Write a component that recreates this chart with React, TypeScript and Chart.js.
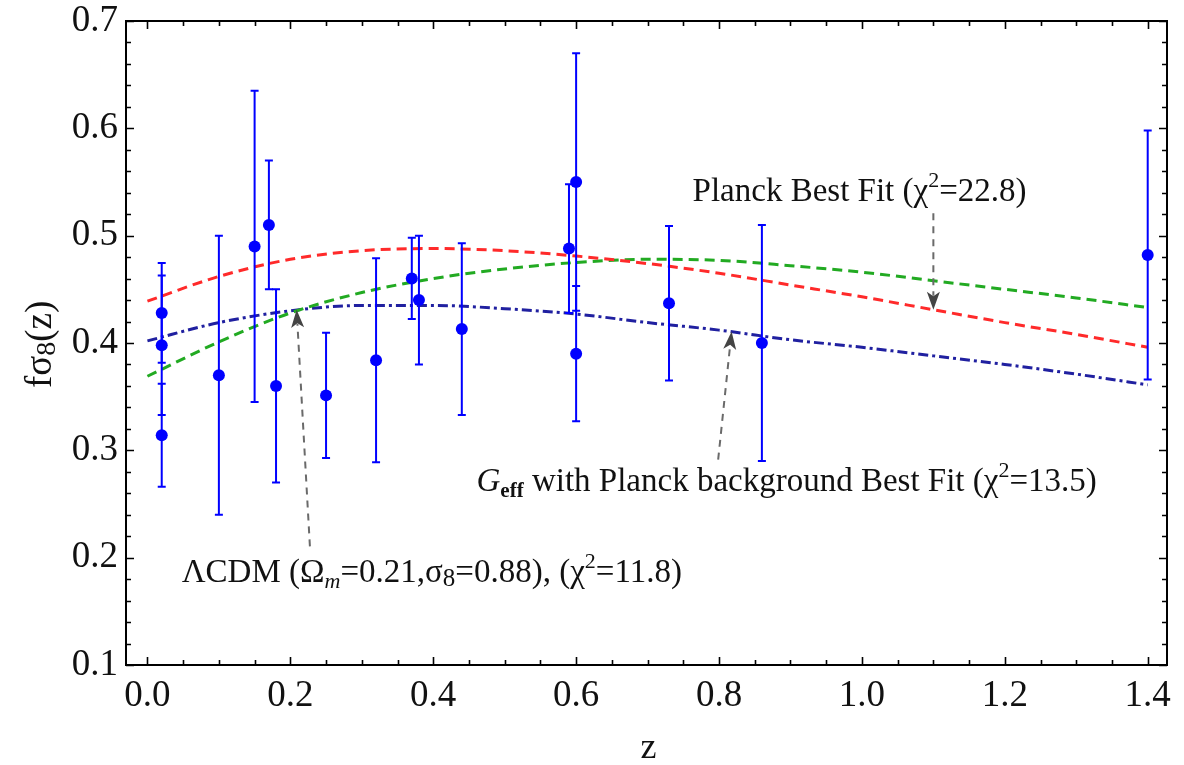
import React, { useEffect, useRef } from "react";
import { Chart, registerables } from "chart.js";

Chart.register(...registerables);

// ---------- data ----------
const dataZ = [0.02, 0.02, 0.02, 0.10, 0.15, 0.17, 0.18, 0.25, 0.32, 0.37, 0.38, 0.44, 0.59, 0.60, 0.60, 0.73, 0.86, 1.40];
const dataFs8 = [0.428, 0.398, 0.314, 0.370, 0.490, 0.510, 0.360, 0.3512, 0.384, 0.4602, 0.440, 0.413, 0.488, 0.550, 0.390, 0.437, 0.400, 0.482];
const dataErr = [0.0465, 0.065, 0.048, 0.130, 0.145, 0.060, 0.090, 0.0583, 0.095, 0.0378, 0.060, 0.080, 0.060, 0.120, 0.063, 0.072, 0.110, 0.116];

const curveZ = [0, 0.1, 0.2, 0.3, 0.4, 0.5, 0.6, 0.7, 0.8, 0.9, 1.0, 1.1, 1.2, 1.3, 1.4];
const planckFit = [0.439, 0.462, 0.478, 0.486, 0.488, 0.486, 0.481, 0.474, 0.465, 0.454, 0.443, 0.431, 0.419, 0.408, 0.396];
const lcdmFit = [0.369, 0.401, 0.428, 0.447, 0.460, 0.469, 0.475, 0.478, 0.477, 0.472, 0.466, 0.458, 0.450, 0.442, 0.433];
const geffFit = [0.402, 0.419, 0.430, 0.435, 0.435, 0.432, 0.427, 0.419, 0.412, 0.403, 0.396, 0.388, 0.380, 0.371, 0.361];

const xTicks = [0.0, 0.2, 0.4, 0.6, 0.8, 1.0, 1.2, 1.4];
const yTicks = [0.1, 0.2, 0.3, 0.4, 0.5, 0.6, 0.7];
const xRange = [-0.03, 1.427];
const yRange = [0.1, 0.7];

// annotations (data coordinates)
const planckLabelAt = [0.763, 0.5326];
const geffLabelAt = [0.4606, 0.2617];
const lcdmLabelAt = [0.0479, 0.1769];
const planckArrow = [1.10, 0.521, 1.10, 0.431];
const geffArrow = [0.7988, 0.2913, 0.8176, 0.4108];
const lcdmArrow = [0.2274, 0.2105, 0.2088, 0.431];

const SERIF = '"Liberation Serif", "Times New Roman", serif';

type Seg = { t: string; size: number; dy?: number; italic?: boolean; bold?: boolean };

function drawRich(ctx: CanvasRenderingContext2D, x: number, y: number, segs: Seg[]) {
  let cx = x;
  ctx.textAlign = "left";
  ctx.textBaseline = "alphabetic";
  for (const s of segs) {
    ctx.font = `${s.italic ? "italic " : ""}${s.bold ? "bold " : ""}${s.size}px ${SERIF}`;
    ctx.fillText(s.t, cx, y + (s.dy || 0));
    cx += ctx.measureText(s.t).width;
  }
}

function drawArrow(ctx: CanvasRenderingContext2D, x1: number, y1: number, x2: number, y2: number) {
  const ang = Math.atan2(y2 - y1, x2 - x1);
  const L = 18;
  const W = 6.5;
  const bx = x2 - Math.cos(ang) * L;
  const by = y2 - Math.sin(ang) * L;
  ctx.save();
  ctx.strokeStyle = "#6a6a6a";
  ctx.lineWidth = 2;
  ctx.setLineDash([7, 6]);
  ctx.beginPath();
  ctx.moveTo(x1, y1);
  ctx.lineTo(bx + Math.cos(ang) * 4, by + Math.sin(ang) * 4);
  ctx.stroke();
  ctx.setLineDash([]);
  ctx.fillStyle = "#444";
  const px = -Math.sin(ang);
  const py = Math.cos(ang);
  const nx = x2 - Math.cos(ang) * L * 0.75;
  const ny = y2 - Math.sin(ang) * L * 0.75;
  ctx.beginPath();
  ctx.moveTo(x2, y2);
  ctx.lineTo(bx + px * W, by + py * W);
  ctx.lineTo(nx, ny);
  ctx.lineTo(bx - px * W, by - py * W);
  ctx.closePath();
  ctx.fill();
  ctx.restore();
}

const decorPlugin = {
  id: "decor",
  afterDatasetsDraw(chart: any) {
    const { ctx, chartArea: a } = chart;
    const xs = chart.scales.x;
    const ys = chart.scales.y;
    const X = (v: number) => xs.getPixelForValue(v);
    const Y = (v: number) => ys.getPixelForValue(v);

    // error bars
    ctx.save();
    ctx.strokeStyle = "#0000ff";
    ctx.lineWidth = 2;
    for (let i = 0; i < dataZ.length; i++) {
      const px = X(dataZ[i]);
      const yt = Y(dataFs8[i] + dataErr[i]);
      const yb = Y(dataFs8[i] - dataErr[i]);
      ctx.beginPath();
      ctx.moveTo(px, yt);
      ctx.lineTo(px, yb);
      ctx.moveTo(px - 4, yt);
      ctx.lineTo(px + 4, yt);
      ctx.moveTo(px - 4, yb);
      ctx.lineTo(px + 4, yb);
      ctx.stroke();
    }
    ctx.restore();

    // frame and ticks
    ctx.save();
    ctx.strokeStyle = "#000";
    ctx.lineWidth = 2;
    ctx.strokeRect(a.left, a.top, a.right - a.left, a.bottom - a.top);
    ctx.lineWidth = 1.6;
    ctx.beginPath();
    for (let k = 0; k <= 28; k++) {
      const v = k * 0.05;
      const major = k % 4 === 0;
      const len = major ? 8 : 5;
      const px = Math.round(X(v)) + 0.5;
      ctx.moveTo(px, a.bottom);
      ctx.lineTo(px, a.bottom - len);
      ctx.moveTo(px, a.top);
      ctx.lineTo(px, a.top + len);
    }
    for (let k = 0; k <= 30; k++) {
      const v = yRange[0] + k * 0.02;
      const major = k % 5 === 0;
      const len = major ? 8 : 5;
      const py = Math.round(Y(v)) + 0.5;
      ctx.moveTo(a.left, py);
      ctx.lineTo(a.left + len, py);
      ctx.moveTo(a.right, py);
      ctx.lineTo(a.right - len, py);
    }
    ctx.stroke();
    ctx.restore();

    // arrows
    for (const arr of [planckArrow, geffArrow, lcdmArrow]) {
      drawArrow(ctx, X(arr[0]), Y(arr[1]), X(arr[2]), Y(arr[3]));
    }

    // annotation texts
    ctx.save();
    ctx.fillStyle = "#111";
    drawRich(ctx, X(planckLabelAt[0]), Y(planckLabelAt[1]), [
      { t: "Planck Best Fit (\u03c7", size: 33 },
      { t: "2", size: 22, dy: -14 },
      { t: "=22.8)", size: 33 },
    ]);
    drawRich(ctx, X(geffLabelAt[0]), Y(geffLabelAt[1]), [
      { t: "G", size: 33, italic: true },
      { t: "eff", size: 21, bold: true, dy: 6 },
      { t: " with Planck background Best Fit (\u03c7", size: 33 },
      { t: "2", size: 22, dy: -14 },
      { t: "=13.5)", size: 33 },
    ]);
    drawRich(ctx, X(lcdmLabelAt[0]), Y(lcdmLabelAt[1]), [
      { t: "\u039bCDM (\u03a9", size: 33 },
      { t: "m", size: 22, italic: true, dy: 6 },
      { t: "=0.21,\u03c3", size: 33 },
      { t: "8", size: 25, dy: 4 },
      { t: "=0.88), (\u03c7", size: 33 },
      { t: "2", size: 22, dy: -14 },
      { t: "=11.8)", size: 33 },
    ]);

    // axis titles
    ctx.fillStyle = "#111";
    ctx.textAlign = "center";
    ctx.textBaseline = "alphabetic";
    ctx.font = `36px ${SERIF}`;
    ctx.fillText("z", (a.left + a.right) / 2 + 2, 758);

    ctx.save();
    ctx.translate(51, (a.top + a.bottom) / 2 + 45);
    ctx.rotate(-Math.PI / 2);
    drawRich(ctx, 0, 0, [
      { t: "f\u03c3", size: 37 },
      { t: "8", size: 28, dy: 4 },
      { t: "(z)", size: 37 },
    ]);
    ctx.restore();
    ctx.restore();
  },
};

export default function App() {
  const ref = useRef<HTMLCanvasElement>(null);
  useEffect(() => {
    const lineDs = (label: string, vals: number[], color: string, dash: number[]) => ({
      label,
      data: curveZ.map((z, i) => ({ x: z, y: vals[i] })),
      showLine: true,
      pointRadius: 0,
      borderColor: color,
      backgroundColor: color,
      borderWidth: 3,
      borderDash: dash,
      cubicInterpolationMode: "monotone" as const,
      fill: false,
      order: 2,
    });
    const chart = new Chart(ref.current!, {
      type: "scatter",
      data: {
        datasets: [
          {
            label: "data",
            data: dataZ.map((z, i) => ({ x: z, y: dataFs8[i] })),
            pointRadius: 6,
            pointBackgroundColor: "#0000ff",
            pointBorderColor: "#0000ff",
            pointBorderWidth: 0,
            showLine: false,
            order: 0,
          } as any,
          lineDs("Planck Best Fit", planckFit, "#ff2a2a", [10, 6]),
          lineDs("\u039bCDM", lcdmFit, "#22aa22", [10, 6]),
          lineDs("Geff", geffFit, "#2020a0", [10, 4, 3, 4]),
        ],
      },
      options: {
        responsive: false,
        animation: false,
        events: [],
        layout: { padding: { top: 21, right: 17, left: 0, bottom: 0 } },
        plugins: { legend: { display: false }, tooltip: { enabled: false } },
        scales: {
          x: {
            type: "linear",
            min: xRange[0],
            max: xRange[1],
            grid: { display: false },
            border: { display: false },
            ticks: {
              color: "#111",
              padding: 5,
              font: { family: SERIF, size: 37, lineHeight: 1 },
              callback: (v: any) => Number(v).toFixed(1),
            },
            afterBuildTicks: (s: any) => {
              s.ticks = xTicks.map((v) => ({ value: v }));
            },
            afterFit: (s: any) => {
              s.height = 100;
            },
          },
          y: {
            type: "linear",
            min: yRange[0],
            max: yRange[1],
            grid: { display: false },
            border: { display: false },
            ticks: {
              color: "#111",
              padding: 0,
              font: { family: SERIF, size: 37, lineHeight: 1 },
              callback: (v: any) => Number(v).toFixed(1),
            },
            afterBuildTicks: (s: any) => {
              s.ticks = yTicks.map((v) => ({ value: v }));
            },
            afterFit: (s: any) => {
              s.width = 126;
            },
          },
        },
      },
      plugins: [decorPlugin],
    });
    return () => chart.destroy();
  }, []);
  return (
    <div style={{ position: "absolute", left: 0, top: 0, width: 1184, height: 765, background: "#fff" }}>
      <canvas ref={ref} width={1184} height={765} style={{ display: "block" }} />
    </div>
  );
}
